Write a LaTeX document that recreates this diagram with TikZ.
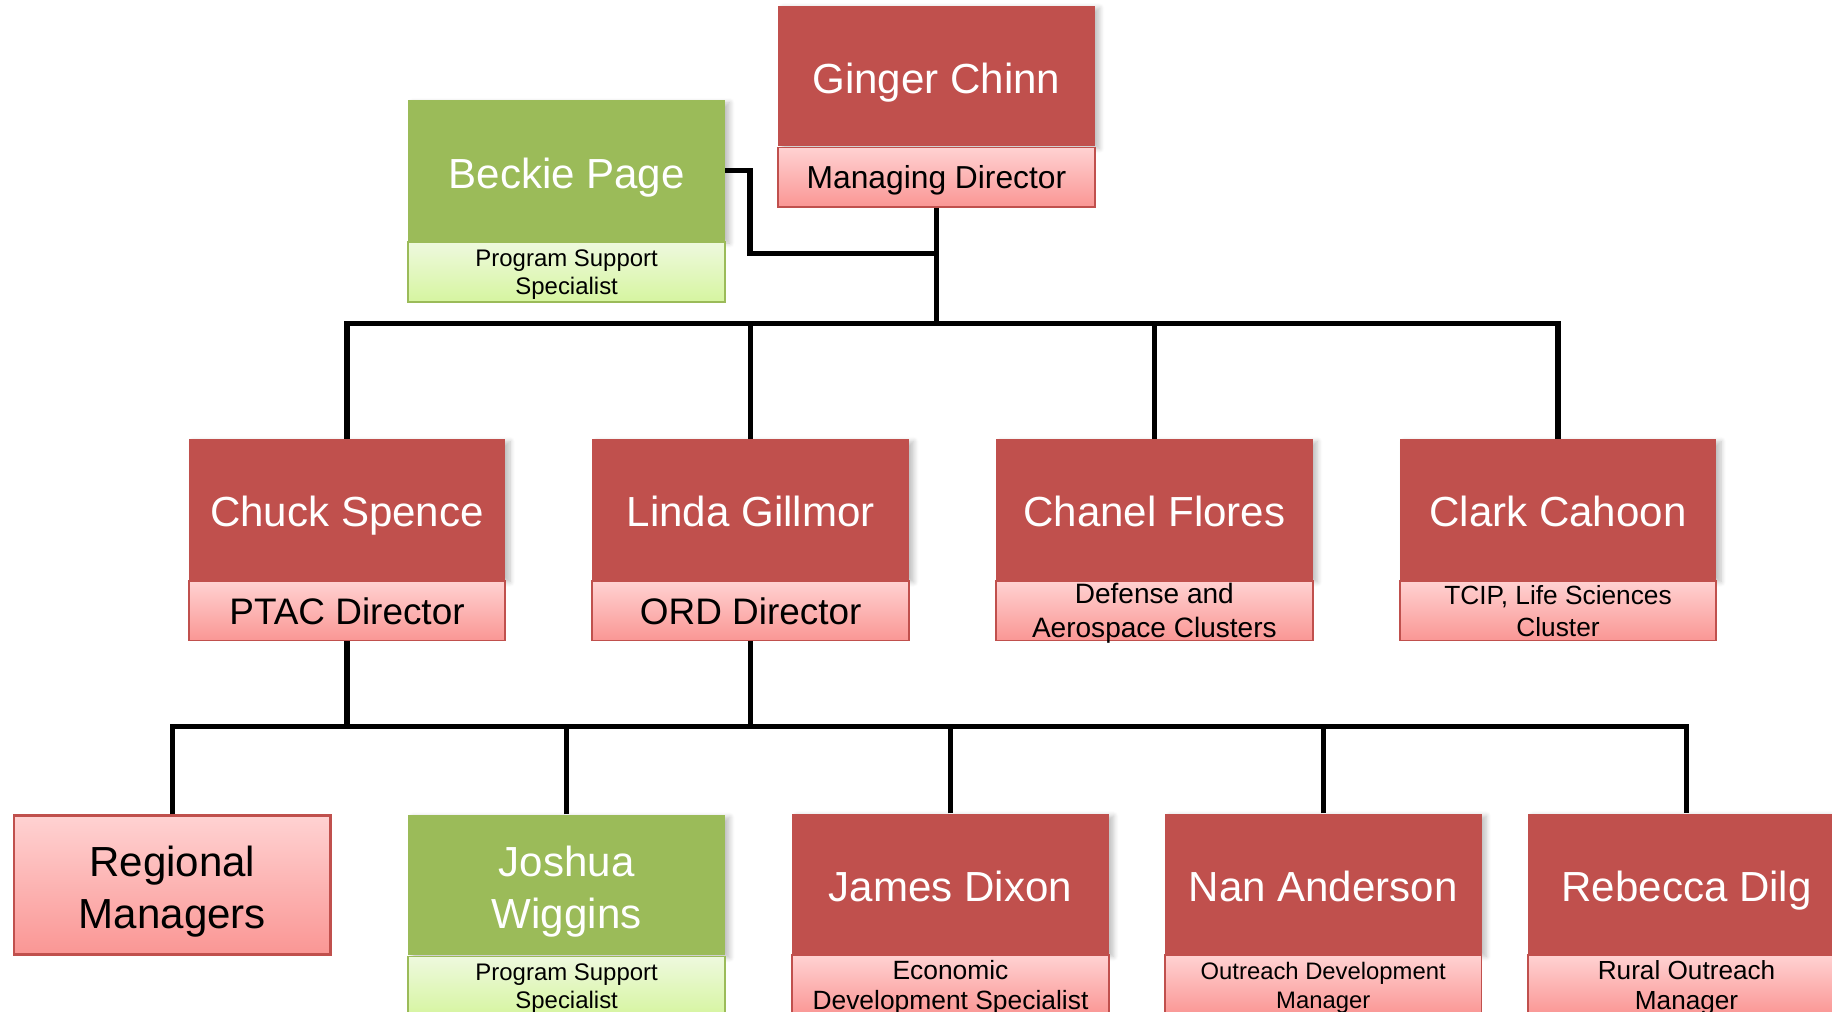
\documentclass[tikz,border=0pt]{standalone}
\usepackage{fontspec}
\setmainfont{Liberation Sans}
\usetikzlibrary{positioning,shadows.blur}
\definecolor{chartred}{RGB}{192,80,77}
\definecolor{chartgreen}{RGB}{155,187,89}
\definecolor{pinktop}{RGB}{255,210,210}
\definecolor{pinkbottom}{RGB}{250,150,148}
\definecolor{limetop}{RGB}{238,249,222}
\definecolor{limebottom}{RGB}{214,245,160}

\tikzset{
        namebox/.style={rectangle, inner sep=0pt, minimum width=135.5pt, minimum height=60pt,
                align=center, text=white, font=\fontsize{18}{22}\selectfont,
                text height=15pt, text depth=0pt,
                blur shadow={shadow xshift=2pt, shadow yshift=-1pt, shadow blur steps=6, shadow opacity=25}},
        twolines/.style={text height=37pt},
        redname/.style={namebox, fill=chartred},
        greenname/.style={namebox, fill=chartgreen},
        rolebox/.style={rectangle, inner sep=0pt, minimum width=135.5pt, minimum height=25.5pt,
                align=center, line width=0.8pt, text depth=0pt, below=0pt of #1},
        redrole/.style={rolebox=#1, draw=chartred, top color=pinktop, bottom color=pinkbottom},
        greenrole/.style={rolebox=#1, draw=chartgreen, top color=limetop, bottom color=limebottom},
        orgline/.style={line width=2.2pt},
}

\begin{document}
\begin{tikzpicture}[x=0.5pt, y=-0.5pt]
        \useasboundingbox (0,0) rectangle (1568,866);

        % Managing director and support {{{
        \node[redname] (chinn) at (801.5,65) {Ginger Chinn};
        \node[redrole=chinn, font=\fontsize{13.6}{16}\selectfont] (chinnrole) {Managing Director};
        \node[greenname] (page) at (485,146) {Beckie Page};
        \node[greenrole=page, font=\fontsize{10.25}{12}\selectfont] (pagerole) {Program Support\\Specialist};
        % }}}

        % Directors {{{
        \node[redname] (spence) at (297,436) {Chuck Spence};
        \node[redrole=spence, font=\fontsize{15.8}{18}\selectfont] (spencerole) {PTAC Director};
        \node[redname] (gillmor) at (642.5,436) {Linda Gillmor};
        \node[redrole=gillmor, font=\fontsize{15.8}{18}\selectfont] (gillmorrole) {ORD Director};
        \node[redname] (flores) at (988,436) {Chanel Flores};
        \node[redrole=flores, font=\fontsize{12}{14.6}\selectfont] (floresrole) {Defense and\\Aerospace Clusters};
        \node[redname] (cahoon) at (1333.5,436) {Clark Cahoon};
        \node[redrole=cahoon, font=\fontsize{11.25}{13.5}\selectfont] (cahoonrole) {TCIP, Life Sciences\\Cluster};
        % }}}

        % Staff {{{
        \node[rectangle, inner sep=0pt, minimum width=135.5pt, minimum height=59.5pt, align=center,
                draw=chartred, line width=1pt, top color=pinktop, bottom color=pinkbottom,
                font=\fontsize{18}{22}\selectfont, text height=37pt, text depth=0pt]
                (managers) at (147.5,757.5) {Regional\\Managers};
        \node[greenname, twolines] (wiggins) at (485,757.5) {Joshua\\Wiggins};
        \node[greenrole=wiggins, font=\fontsize{10.25}{12}\selectfont] (wigginsrole) {Program Support\\Specialist};
        \node[redname] (dixon) at (813.5,756.5) {James Dixon};
        \node[redrole=dixon, font=\fontsize{11.3}{13}\selectfont] (dixonrole) {Economic\\Development Specialist};
        \node[redname] (anderson) at (1132.5,756.5) {Nan Anderson};
        \node[redrole=anderson, font=\fontsize{10.2}{12.5}\selectfont] (andersonrole) {Outreach Development\\Manager};
        \node[redname] (dilg) at (1443.5,756.5) {Rebecca Dilg};
        \node[redrole=dilg, font=\fontsize{11.2}{13}\selectfont] (dilgrole) {Rural Outreach\\Manager};
        % }}}

        % Connectors {{{
        \coordinate (pagejoin) at (801.5,217);
        \coordinate (topbus) at (801.5,277);
        \coordinate (lowbus) at (642.5,622);

        \draw[orgline] (chinnrole.south) -- (topbus);
        \draw[orgline] (page.east) -- ++(21,0) |- (pagejoin);
        \draw[orgline] (spence.north) |- (topbus) -| (cahoon.north);
        \draw[orgline] (gillmor.north) -- (gillmor.north |- topbus);
        \draw[orgline] (flores.north) -- (flores.north |- topbus);

        \draw[orgline] (spencerole.south) -- (spencerole.south |- lowbus);
        \draw[orgline] (gillmorrole.south) -- (lowbus);
        \draw[orgline] (managers.north) |- (lowbus) -| (dilg.north);
        \foreach \who in {wiggins, dixon, anderson}
                \draw[orgline] (\who.north) -- (\who.north |- lowbus);
        % }}}
\end{tikzpicture}
\end{document}
